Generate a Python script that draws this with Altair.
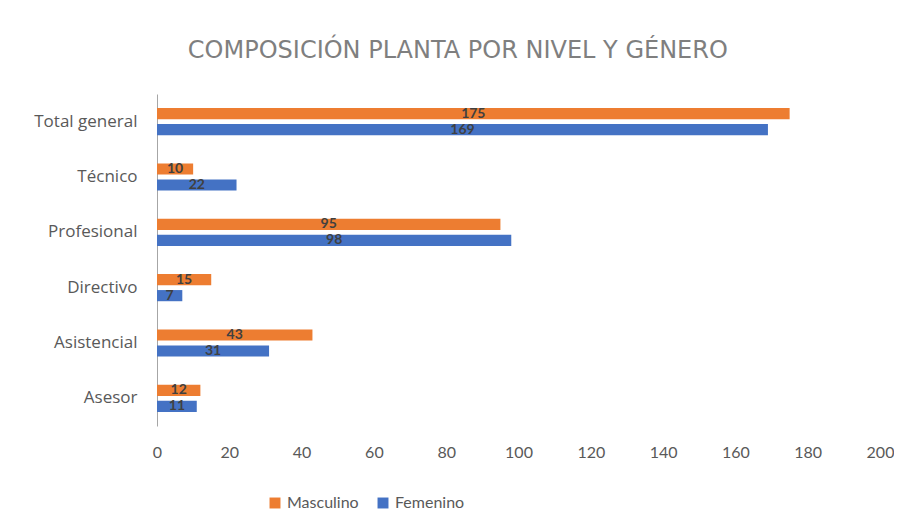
import altair as alt
import pandas as pd

niveles = ["Total general", "Técnico", "Profesional", "Directivo", "Asistencial", "Asesor"]
masculino = [175, 10, 95, 15, 43, 12]
femenino = [169, 22, 98, 7, 31, 11]
generos = ["Masculino", "Femenino"]
colores = ["#ED7D31", "#4472C4"]
x_ticks = list(range(0, 201, 20))

rows = []
for n, m, f in zip(niveles, masculino, femenino):
    rows.append({"Nivel": n, "Genero": "Masculino", "Valor": m})
    rows.append({"Nivel": n, "Genero": "Femenino", "Valor": f})
df = pd.DataFrame(rows)

FONT = "Lato"
YFONT = "Open Sans"

y_enc = alt.Y("Nivel:N", sort=niveles,
              scale=alt.Scale(paddingInner=0.51, paddingOuter=0.255),
              axis=alt.Axis(title=None, ticks=False, grid=False, domainColor="#a6a6a6",
                            labelFontSize=17, labelColor="#595959", labelFont=YFONT,
                            labelPadding=20))
yoff = alt.YOffset("Genero:N", sort=generos, scale=alt.Scale(paddingInner=0.3, paddingOuter=0))
x_scale = alt.Scale(domain=[0, 200], nice=False)

bars = alt.Chart(df).mark_bar().encode(
    x=alt.X("Valor:Q", scale=x_scale,
            axis=alt.Axis(title=None, values=x_ticks, domain=False, ticks=False, grid=False,
                          labelFontSize=16, labelColor="#595959", labelFont=FONT,
                          labelPadding=18, labelFlush=False)),
    y=y_enc,
    yOffset=yoff,
    color=alt.Color("Genero:N", sort=generos,
                    scale=alt.Scale(domain=generos, range=colores),
                    legend=alt.Legend(title=None, orient="none", direction="horizontal",
                                      legendX=110, legendY=401, symbolType="square",
                                      symbolSize=120, labelFontSize=16, labelColor="#595959",
                                      labelFont=FONT, columnPadding=16, symbolStrokeWidth=0)),
)

labels = alt.Chart(df).transform_calculate(mid="datum.Valor / 2").mark_text(
    fontSize=14, fontWeight="bold", color="#404040", font=FONT, align="center", baseline="middle"
).encode(
    x=alt.X("mid:Q", scale=x_scale),
    y=alt.Y("Nivel:N", sort=niveles),
    yOffset=yoff,
    text=alt.Text("Valor:Q"),
)

chart = (bars + labels).properties(
    width=723, height=332,
    background="white",
    autosize=alt.AutoSizeParams(type="none"),
    padding={"left": 149, "top": 86, "right": 14, "bottom": 95},
    title=alt.TitleParams("COMPOSICIÓN PLANTA POR NIVEL Y GÉNERO", fontSize=24,
                          font="DejaVu Sans", fontWeight="normal", color="#7f7f7f",
                          anchor="middle", frame="bounds", offset=31, dx=-6),
).configure_view(strokeWidth=0, stroke=None)

chart.save("out.html", embed_options={"renderer": "svg", "actions": False})
